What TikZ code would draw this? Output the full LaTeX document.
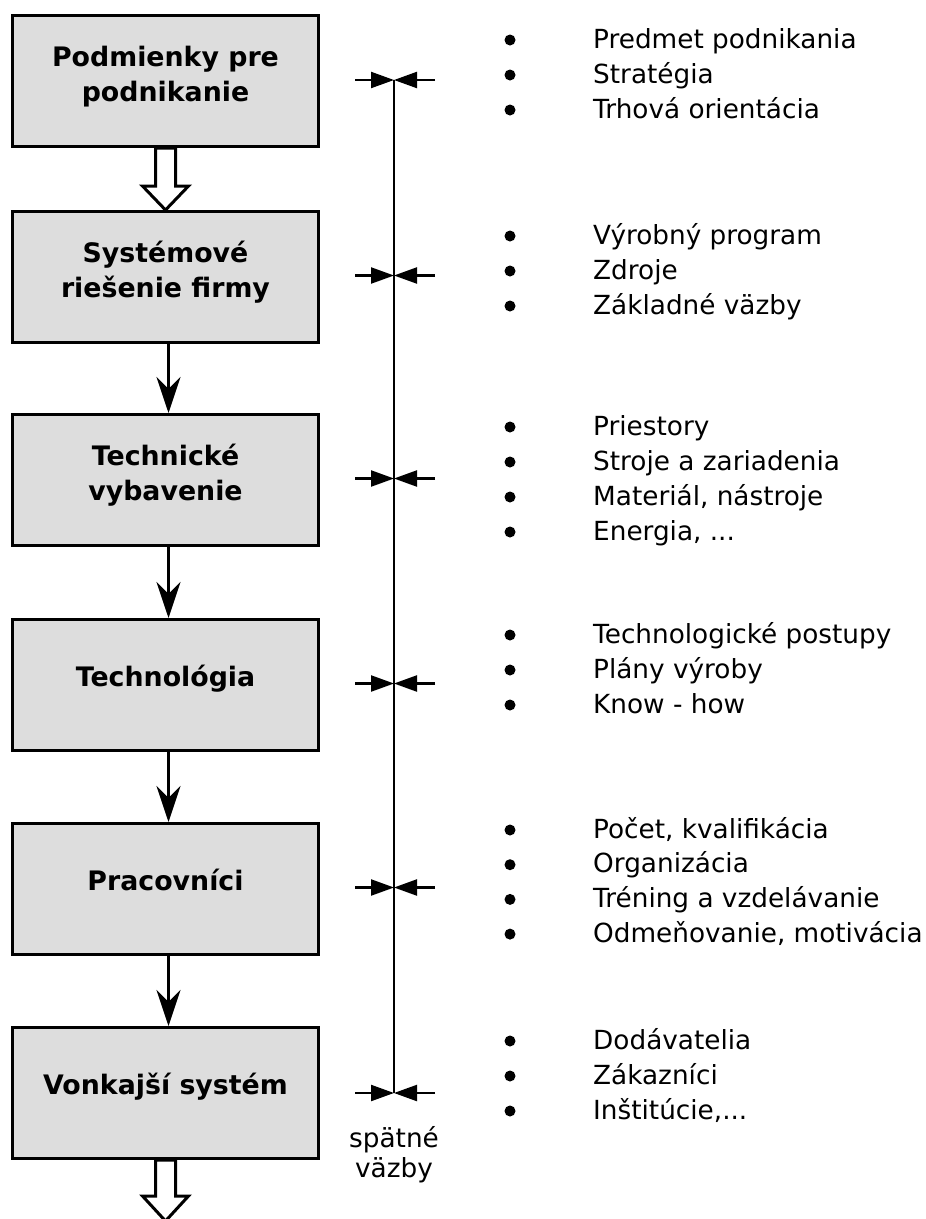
\documentclass[tikz,border=0pt]{standalone}
\usepackage{fontspec}
\setmainfont{DejaVu Sans}
\usetikzlibrary{arrows.meta}
\definecolor{boxgray}{RGB}{221,221,221}
\begin{document}
\begin{tikzpicture}[x=1pt,y=-1pt,
  box/.style={draw=black, fill=boxgray, line width=3pt, minimum width=306pt, minimum height=131pt, inner sep=0pt, anchor=north west},
  btxt/.style={font=\fontsize{26.8}{35}\selectfont\bfseries, anchor=base, inner sep=0pt},
  ltxt/.style={font=\fontsize{26.3}{35}\selectfont, anchor=base west, inner sep=0pt},
  ftxt/.style={font=\fontsize{26.3}{32}\selectfont, anchor=base, inner sep=0pt},
  flow/.style={line width=3pt, -{Stealth[length=36pt,width=24pt,inset=12pt]}},
  fbarrow/.style={line width=2.2pt, -{Triangle[length=23pt,width=16pt]}},
  hollow/.style={draw=black, fill=white, line width=3pt, line join=miter},
  bulletdot/.style={fill=black}
]
\useasboundingbox (0,0) rectangle (926,1219);

% boxes
\node[box] (b1) at (11,14) {};
\node[box] (b2) at (11,210) {};
\node[box] (b3) at (11,413) {};
\node[box] (b4) at (11,618) {};
\node[box] (b5) at (11,822) {};
\node[box] (b6) at (11,1026) {};

% box texts
\node[btxt] (t1a) at ([yshift=15pt]b1.center) {Podmienky pre};
\node[btxt] (t1b) at ([yshift=-20pt]b1.center) {podnikanie};
\node[btxt] (t2a) at ([yshift=15pt]b2.center) {Systémové};
\node[btxt] (t2b) at ([yshift=-20pt]b2.center) {riešenie firmy};
\node[btxt] (t3a) at ([yshift=15pt]b3.center) {Technické};
\node[btxt] (t3b) at ([yshift=-20pt]b3.center) {vybavenie};
\node[btxt] (t4) at ([yshift=-1pt]b4.center) {Technológia};
\node[btxt] (t5) at ([yshift=-1pt]b5.center) {Pracovníci};
\node[btxt] (t6) at ([yshift=-1pt]b6.center) {Vonkajší systém};

% hollow arrows
\draw[hollow] ([xshift=-10pt]b1.south) -- ++(0,38) -- ++(-13,0) -- (b2.north)
  -- ([xshift=23pt,yshift=-38pt]b1.south) -- ([xshift=10pt,yshift=-38pt]b1.south) -- ([xshift=10pt]b1.south) -- cycle;
\coordinate (out) at ([yshift=-61pt]b6.south);
\draw[hollow] ([xshift=-10pt]b6.south) -- ++(0,36) -- ++(-13,0) -- (out)
  -- ([xshift=23pt,yshift=-36pt]b6.south) -- ([xshift=10pt,yshift=-36pt]b6.south) -- ([xshift=10pt]b6.south) -- cycle;

% thin flow arrows
\draw[flow] ([xshift=3pt]b2.south) -- ([xshift=3pt]b3.north);
\draw[flow] ([xshift=3pt]b3.south) -- ([xshift=3pt]b4.north);
\draw[flow] ([xshift=3pt]b4.south) -- ([xshift=3pt]b5.north);
\draw[flow] ([xshift=3pt]b5.south) -- ([xshift=3pt]b6.north);

% feedback line
\foreach \k/\yy in {1/80, 2/275.5, 3/478.5, 4/683.5, 5/887.5, 6/1093} {
  \coordinate (c\k) at (394,\yy);
  \coordinate (l\k) at (355,\yy);
  \coordinate (r\k) at (435,\yy);
  \draw[fbarrow] (l\k) -- (c\k);
  \draw[fbarrow] (r\k) -- (c\k);
}
\draw[line width=2pt] (c1) -- (c6);
\node[ftxt] (sp1) at (394,1147) {spätné};
\node[ftxt] (sp2) at (394,1177) {väzby};

% lists
\foreach \t [count=\i] in {Predmet podnikania, Stratégia, Trhová orientácia} {
  \node[ltxt] (la\i) at (593,{48+35*(\i-1)}) {\t};
  \fill[bulletdot] (510,{40+35*(\i-1)}) circle (5.5);
}
\foreach \t [count=\i] in {Výrobný program, Zdroje, Základné väzby} {
  \node[ltxt] (lb\i) at (593,{244+35*(\i-1)}) {\t};
  \fill[bulletdot] (510,{236+35*(\i-1)}) circle (5.5);
}
\foreach \t [count=\i] in {Priestory, Stroje a zariadenia, {Materiál, nástroje}, {Energia, .{}.{}.}} {
  \node[ltxt] (lc\i) at (593,{435+35*(\i-1)}) {\t};
  \fill[bulletdot] (510,{427+35*(\i-1)}) circle (5.5);
}
\foreach \t [count=\i] in {Technologické postupy, Plány výroby, Know - how} {
  \node[ltxt] (ld\i) at (593,{643+35*(\i-1)}) {\t};
  \fill[bulletdot] (510,{635+35*(\i-1)}) circle (5.5);
}
\foreach \t [count=\i] in {{Počet, kvalifikácia}, Organizácia, Tréning a vzdelávanie, {Odmeňovanie, motivácia}} {
  \node[ltxt] (le\i) at (593,{838+34.7*(\i-1)}) {\t};
  \fill[bulletdot] (510,{830+34.7*(\i-1)}) circle (5.5);
}
\foreach \t [count=\i] in {Dodávatelia, Zákazníci, {Inštitúcie,.{}.{}.}} {
  \node[ltxt] (lf\i) at (593,{1049+35*(\i-1)}) {\t};
  \fill[bulletdot] (510,{1041+35*(\i-1)}) circle (5.5);
}
\end{tikzpicture}
\end{document}
